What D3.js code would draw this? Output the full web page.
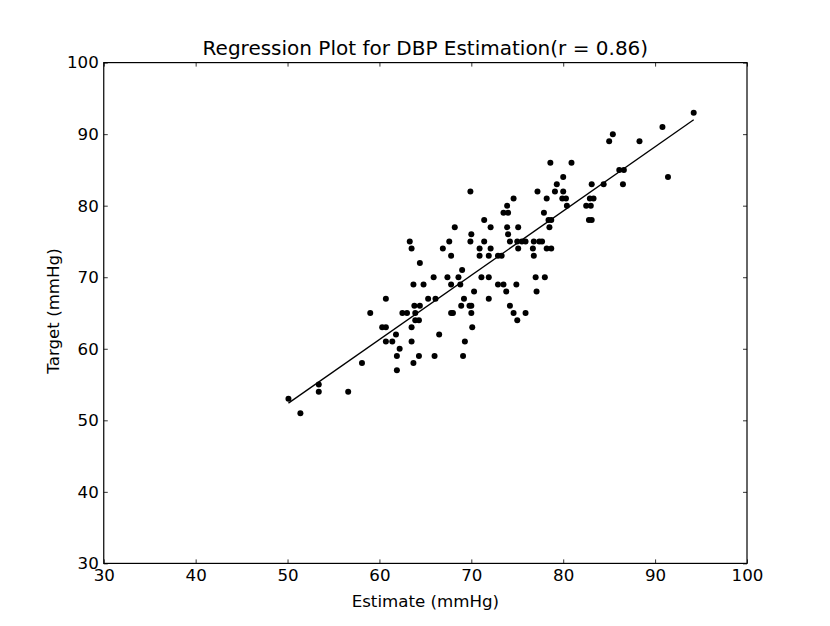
<!DOCTYPE html>
<html>
<head>
<meta charset="utf-8">
<script src="https://cdn.jsdelivr.net/npm/d3@7"></script>
<style>
  body { margin: 0; background: #fff; }
  svg text { font-family: "DejaVu Sans", sans-serif; fill: #000; }
</style>
</head>
<body>
<div class="container"></div>
<script>
// Estimate (mmHg) values
const estimates = [
  94.2, 90.8, 85.4, 85.0, 88.3, 80.9, 80.0, 91.4, 86.1, 86.6, 80.0, 83.1, 84.4, 86.5,
  79.9, 80.3, 80.4, 82.9, 83.3, 82.5, 83.0, 82.8, 83.1,
  78.6, 79.3, 79.1, 77.2, 74.6, 78.2, 69.9, 73.9, 73.5, 74.0, 77.9, 71.4, 78.4, 78.7,
  68.2, 72.1, 73.9, 75.1, 78.5, 70.0, 74.0, 67.6, 69.9, 71.4, 74.2, 75.0, 75.5, 75.9,
  76.8, 77.4, 77.7, 66.9, 70.9, 72.1, 75.1, 76.7, 78.2, 78.7, 67.8, 70.9, 71.9, 72.9,
  73.3, 76.8, 69.0, 67.4, 68.6, 71.1, 71.9, 77.0, 78.0, 67.8, 68.8, 72.9, 73.5, 74.9,
  70.3, 73.8, 77.1, 69.2, 71.9, 68.9, 69.8, 70.0, 74.2, 67.8, 68.0, 70.0, 74.6, 75.9,
  75.0, 70.1,
  50.1, 51.4, 53.4, 53.4, 56.6, 58.1, 59.0, 60.7, 60.3, 60.7, 60.7, 61.4, 61.8, 62.2,
  61.9, 61.9, 63.7, 63.5, 64.3, 63.5, 66.0, 66.5, 62.5, 63.0, 63.9, 63.8, 64.4, 63.9,
  64.3, 65.3, 66.1, 63.7, 64.8, 65.9, 64.4, 69.3, 69.1, 63.3, 63.5
];

// Target (mmHg) values, same order
const targets = [
  93, 91, 90, 89, 89, 86, 84, 84, 85, 85, 82, 83, 83, 83,
  81, 81, 80, 81, 81, 80, 80, 78, 78,
  86, 83, 82, 82, 81, 81, 82, 80, 79, 79, 79, 78, 78, 78,
  77, 77, 77, 77, 77, 76, 76, 75, 75, 75, 75, 75, 75, 75,
  75, 75, 75, 74, 74, 74, 74, 74, 74, 74, 73, 73, 73, 73,
  73, 73, 71, 70, 70, 70, 70, 70, 70, 69, 69, 69, 69, 69,
  68, 68, 68, 67, 67, 66, 66, 66, 66, 65, 65, 65, 65, 65,
  64, 63,
  53, 51, 55, 54, 54, 58, 65, 67, 63, 63, 61, 61, 62, 60,
  59, 57, 58, 61, 59, 63, 59, 62, 65, 65, 65, 66, 66, 64,
  64, 67, 67, 69, 69, 70, 72, 61, 59, 75, 74
];

// fitted line
const fitSlope = 0.898;
const fitIntercept = 7.41;

const tickValues = [30, 40, 50, 60, 70, 80, 90, 100];
const titleText = "Regression Plot for DBP Estimation(r = 0.86)";
const xLabel = "Estimate (mmHg)";
const yLabel = "Target (mmHg)";

const width = 830;
const height = 626;
const marginLeft = 103.75;
const marginRight = 83;
const marginTop = 62.6;
const marginBottom = 62.6;
const fontSize = 16.67;

const points = estimates.map((e, i) => [e, targets[i]]);

const x = d3.scaleLinear().domain([30, 100]).range([marginLeft, width - marginRight]);
const y = d3.scaleLinear().domain([30, 100]).range([height - marginBottom, marginTop]);

const svg = d3.select(".container")
  .append("svg")
  .attr("width", width)
  .attr("height", height);

// points
svg.append("g")
  .selectAll("circle")
  .data(points)
  .join("circle")
  .attr("cx", (d) => x(d[0]))
  .attr("cy", (d) => y(d[1]))
  .attr("r", 3)
  .attr("fill", "#000");

// regression line over the range of estimates
const ext = d3.extent(estimates);
svg.append("path")
  .datum(ext.map((e) => [e, fitIntercept + fitSlope * e]))
  .attr("d", d3.line().x((d) => x(d[0])).y((d) => y(d[1])))
  .attr("fill", "none")
  .attr("stroke", "#000")
  .attr("stroke-width", 1.3);

// axes, ticks pointing inward
function styleAxis(g) {
  g.select(".domain").remove();
  g.selectAll(".tick line").attr("stroke", "#000").attr("stroke-width", 0.8);
  g.selectAll(".tick text").attr("font-size", fontSize).attr("font-family", "DejaVu Sans");
}

svg.append("g")
  .attr("transform", `translate(0,${height - marginBottom})`)
  .call(d3.axisBottom(x).tickValues(tickValues).tickSizeInner(-4).tickSizeOuter(0).tickPadding(5.5))
  .call(styleAxis);

svg.append("g")
  .attr("transform", `translate(0,${marginTop})`)
  .call(d3.axisTop(x).tickValues(tickValues).tickSizeInner(-4).tickSizeOuter(0).tickFormat(""))
  .call(styleAxis);

svg.append("g")
  .attr("transform", `translate(${marginLeft},0)`)
  .call(d3.axisLeft(y).tickValues(tickValues).tickSizeInner(-4).tickSizeOuter(0).tickPadding(5))
  .call(styleAxis);

svg.append("g")
  .attr("transform", `translate(${width - marginRight},0)`)
  .call(d3.axisRight(y).tickValues(tickValues).tickSizeInner(-4).tickSizeOuter(0).tickFormat(""))
  .call(styleAxis);

// frame
svg.append("rect")
  .attr("x", marginLeft)
  .attr("y", marginTop)
  .attr("width", width - marginLeft - marginRight)
  .attr("height", height - marginTop - marginBottom)
  .attr("fill", "none")
  .attr("stroke", "#000")
  .attr("stroke-width", 1.2);

// title and labels
svg.append("text")
  .attr("x", (marginLeft + width - marginRight) / 2)
  .attr("y", 55)
  .attr("text-anchor", "middle")
  .attr("font-size", 20)
  .text(titleText);

svg.append("text")
  .attr("x", (marginLeft + width - marginRight) / 2)
  .attr("y", 607)
  .attr("text-anchor", "middle")
  .attr("font-size", fontSize)
  .text(xLabel);

svg.append("text")
  .attr("transform", `translate(59,311) rotate(-90)`)
  .attr("text-anchor", "middle")
  .attr("font-size", fontSize)
  .text(yLabel);
</script>
</body>
</html>
